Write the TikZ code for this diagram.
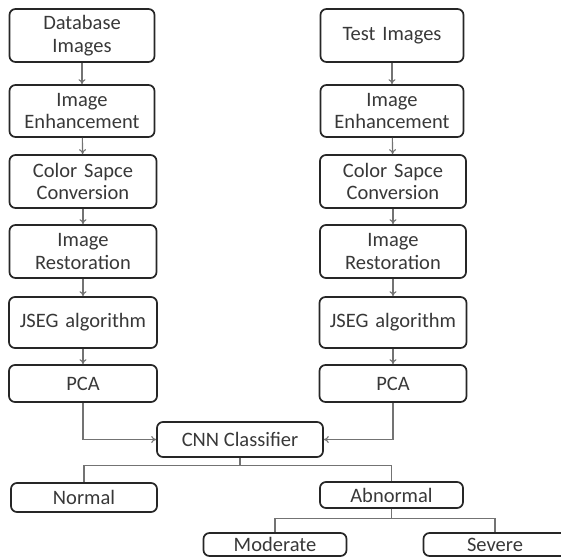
\documentclass[tikz,border=0pt]{standalone}
\usepackage{fontspec}
\setmainfont{Carlito}
\usetikzlibrary{arrows.meta}

\tikzset{
  box/.style={draw=black!85,line width=1.7pt,rounded corners=6pt,align=center,
    inner sep=0pt,font=\fontsize{20.5}{22.5}\selectfont,text=black!78},
  stepline/.style={draw=black!55,line width=1.1pt},
  steparrow/.style={stepline,-{To[length=5pt,width=7pt]}}
}

\begin{document}
\begin{tikzpicture}[x=1pt,y=-1pt]
   \useasboundingbox (0,0) rectangle (561,559);
   % left column
   \node[box,minimum width=145,minimum height=53,text width=140] (ldb) at (82,35.5) {Database\\Images};
   \node[box,minimum width=145,minimum height=52,text width=140] (lenh) at (82,111) {Image\\Enhancement};
   \node[box,minimum width=147,minimum height=53,text width=140] (lcol) at (83,181.5) {Color Sapce\\Conversion};
   \node[box,minimum width=147,minimum height=53,text width=140] (lres) at (83,251.5) {Image\\Restoration};
   \node[box,minimum width=148,minimum height=51,text width=140] (ljseg) at (83,322.5) {JSEG algorithm};
   \node[box,minimum width=148,minimum height=37,text width=140] (lpca) at (83,383.5) {PCA};
   % right column
   \node[box,minimum width=143,minimum height=53,text width=140] (rdb) at (392,35.5) {Test Images};
   \node[box,minimum width=143,minimum height=52,text width=140] (renh) at (392,111) {Image\\Enhancement};
   \node[box,minimum width=146,minimum height=53,text width=140] (rcol) at (393,181.5) {Color Sapce\\Conversion};
   \node[box,minimum width=146,minimum height=53,text width=140] (rres) at (393,251.5) {Image\\Restoration};
   \node[box,minimum width=147,minimum height=51,text width=140] (rjseg) at (393,322.5) {JSEG algorithm};
   \node[box,minimum width=147,minimum height=37,text width=140] (rpca) at (393,383.5) {PCA};
   % classifier and classes
   \node[box,minimum width=166,minimum height=35] (cnn) at (240,439.5) {CNN Classifier};
   \node[box,minimum width=146,minimum height=29] (normal) at (84,497.5) {Normal};
   \node[box,minimum width=143,minimum height=26] (abnormal) at (391.5,495) {Abnormal};
   \node[box,minimum width=143,minimum height=23] (moderate) at (275,544.5) {Moderate};
   \node[box,minimum width=143,minimum height=23] (severe) at (495,544.5) {Severe};

   \draw[steparrow] (ldb) -- (lenh);
   \draw[steparrow] (lenh) -- (lcol);
   \draw[steparrow] (lcol) -- (lres);
   \draw[steparrow] (lres) -- (ljseg);
   \draw[steparrow] (ljseg) -- (lpca);
   \draw[steparrow] (rdb) -- (renh);
   \draw[steparrow] (renh) -- (rcol);
   \draw[steparrow] (rcol) -- (rres);
   \draw[steparrow] (rres) -- (rjseg);
   \draw[steparrow] (rjseg) -- (rpca);

   \draw[steparrow] (lpca.south) |- (cnn.west);
   \draw[steparrow] (rpca.south) |- (cnn.east);

   \draw[stepline] (cnn.south) -- ++(0,8) -| (normal.north);
   \draw[stepline] (cnn.south) -- ++(0,8) -| (abnormal.north);
   \draw[stepline] (abnormal.south) -- ++(0,10) -| (moderate.north);
   \draw[stepline] (abnormal.south) -- ++(0,10) -| (severe.north);
\end{tikzpicture}
\end{document}
